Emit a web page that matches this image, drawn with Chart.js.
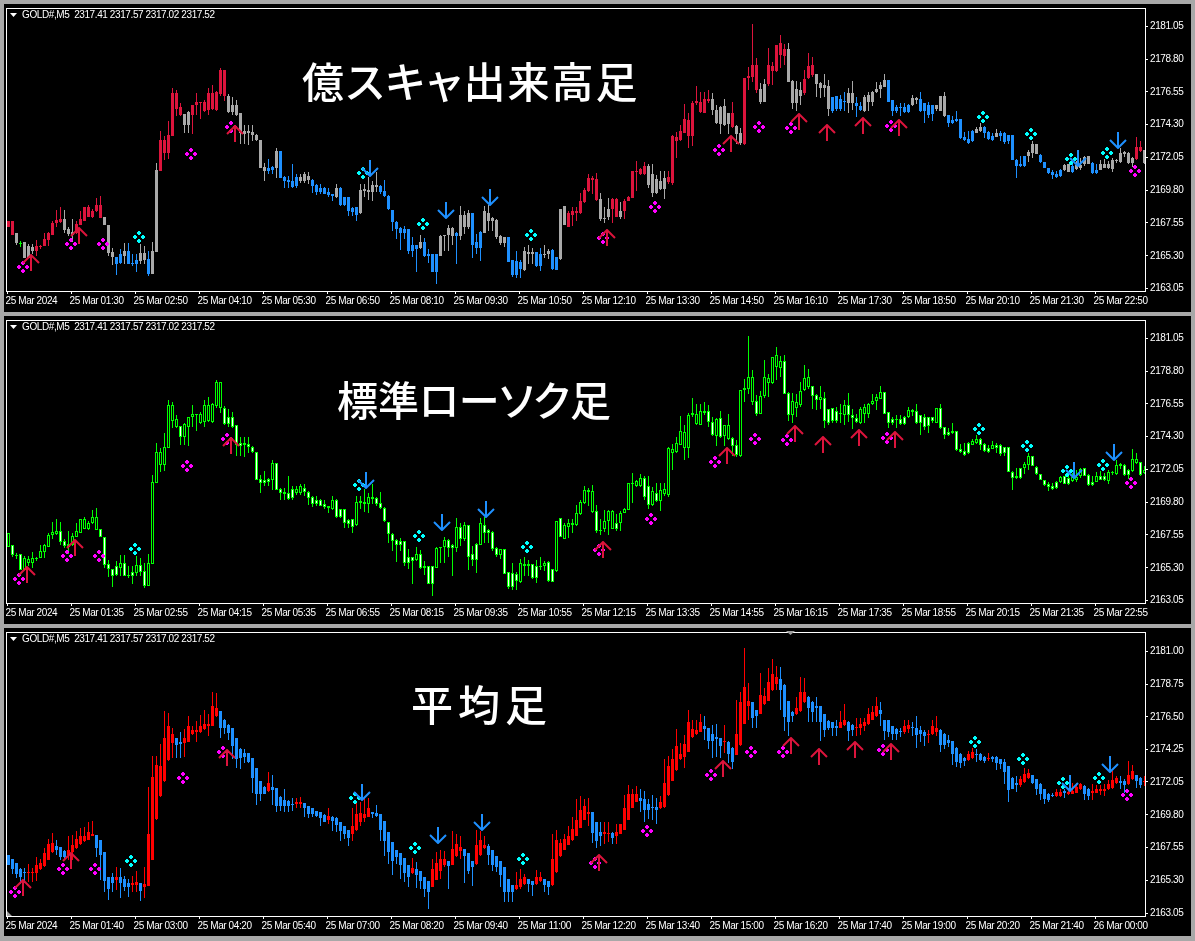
<!DOCTYPE html>
<html>
<head>
<meta charset="utf-8">
<script src="https://cdn.jsdelivr.net/npm/chart.js@4"></script>
<style>
html, body { margin: 0; padding: 0; background: #a8a8a8; width: 1195px; height: 941px; overflow: hidden; }
.pane { position: absolute; left: 4px; width: 1187px; background: #000; }
canvas { position: absolute; left: 0; }
.title { position: absolute; color: #fff; font-family: "Noto Sans CJK JP"; font-weight: 500; font-size: 42px; line-height: 42px; white-space: nowrap; font-feature-settings: "palt"; }
</style>
</head>
<body>
<div class="pane" style="top:4px;height:308px"></div>
<div class="pane" style="top:316px;height:308px"></div>
<div class="pane" style="top:628px;height:308px"></div>
<canvas id="myChart" width="1195" height="312" style="top:0"></canvas>
<canvas id="myChart2" width="1195" height="312" style="top:312px"></canvas>
<canvas id="myChart3" width="1195" height="317" style="top:624px"></canvas>
<div class="title" style="left:302px;top:59px;letter-spacing:2px">億スキャ出来高足</div>
<div class="title" style="left:337px;top:377px;font-size:41px;letter-spacing:0">標準ローソク足</div>
<div class="title" style="left:411px;top:682px;letter-spacing:5px">平均足</div>
<script>
// one letter per bar: r red, b blue, g / h grey (up / down), l lime
const barClass = 'rrhlhggrrr' + 'rrrrhhhrrr' + 'rrrrhhhbbg' + 'bbbghbggrr' + 'rrrrhgrrrr' + 'rrrrrhhhhh' + 'ghhhhbbgbb' + 'bbbgghbbbb' + 'bbgbbbbbgh' + 'hghbbbbbbb' +
  'bbbgbbbbgg' + 'ghbghgbbbg' + 'hhhhgbbbbg' + 'ghbbggbbgh' + 'rrrrrrrrhh' + 'grrhrrrrrr' + 'hhghgrrrrr' + 'rrrrrrhhgh' + 'grhhrrrrhg' + 'rrrrrhhggr' +
  'rrhhghbbbb' + 'ghbbgggggg' + 'bbbbbbggbb' + 'bbhghbbbbb' + 'bbggbbbgbb' + 'bbbbbgghbb' + 'bbbbghbggg' + 'hbbghhghgh' + 'hhrrhg';

const bodyTop = [
2167.71,2167.71,2166.85,2166.16,2166.21,2165.94,2165.89,2165.94,2165.98,2166.48,
2166.85,2167.57,2167.76,2167.80,2167.80,2167.17,2166.94,2167.48,2167.80,2168.62,
2168.62,2168.35,2168.80,2168.80,2167.98,2167.44,2165.55,2165.21,2165.39,2165.66,
2165.66,2164.80,2164.98,2165.48,2165.48,2165.07,2165.66,2171.16,2173.26,2173.26,
2173.57,2176.48,2176.44,2175.48,2175.03,2175.16,2175.66,2175.89,2175.89,2175.85,
2176.44,2176.44,2176.57,2178.07,2178.07,2176.30,2175.66,2175.66,2175.07,2173.85,
2173.85,2173.80,2173.62,2173.26,2171.39,2171.30,2171.39,2172.48,2172.48,2170.71,
2170.48,2170.44,2170.71,2170.71,2170.89,2170.76,2170.53,2170.17,2169.94,2169.94,
2169.66,2169.53,2169.98,2169.98,2169.30,2169.35,2168.57,2168.66,2169.80,2169.85,
2169.80,2170.17,2170.17,2170.07,2169.76,2169.41,2168.44,2167.62,2167.21,2167.12,
2167.17,2166.07,2166.03,2166.21,2166.21,2165.44,2165.39,2165.39,2166.66,2166.75,
2167.21,2167.21,2166.85,2168.12,2168.12,2168.21,2168.21,2166.21,2166.94,2168.39,
2168.26,2167.89,2167.76,2166.66,2166.57,2166.57,2164.98,2164.94,2164.89,2165.62,
2165.57,2165.53,2165.53,2165.39,2165.39,2165.66,2165.71,2165.21,2168.53,2168.71,
2168.26,2168.39,2168.39,2169.07,2169.80,2170.62,2170.62,2170.57,2169.21,2167.89,
2168.53,2169.17,2169.17,2168.39,2169.07,2169.35,2171.12,2171.14,2171.26,2171.44,
2171.48,2170.89,2170.57,2170.44,2170.66,2170.71,2173.51,2173.44,2173.85,2174.66,
2174.62,2175.80,2175.94,2175.89,2176.07,2176.07,2176.03,2175.30,2175.53,2175.55,
2175.07,2175.07,2174.21,2173.71,2177.53,2177.66,2178.39,2178.39,2176.76,2177.12,
2178.39,2178.35,2179.76,2179.89,2179.48,2179.48,2177.30,2176.76,2176.71,2177.44,
2178.35,2178.39,2177.76,2177.17,2177.03,2176.94,2176.17,2176.26,2176.03,2175.94,
2176.48,2176.48,2175.80,2175.57,2176.21,2176.35,2176.57,2176.76,2177.03,2177.39,
2177.39,2175.98,2175.53,2175.53,2175.53,2175.66,2176.12,2176.12,2176.07,2175.76,
2175.66,2175.62,2175.62,2176.30,2176.30,2174.94,2174.62,2174.66,2174.66,2173.44,
2173.35,2173.89,2173.98,2174.12,2174.16,2173.80,2173.53,2173.71,2173.76,2173.76,
2173.57,2173.57,2171.89,2171.57,2172.12,2172.39,2172.98,2172.94,2172.21,2171.76,
2171.30,2171.08,2170.94,2171.21,2171.53,2171.57,2171.44,2171.53,2171.53,2172.07,
2172.17,2171.66,2171.21,2171.57,2171.62,2171.57,2171.85,2171.85,2172.35,2172.39,
2172.35,2172.03,2172.80,2172.80,2172.53,2171.98];

const bodyBottom = [
2167.26,2166.75,2166.16,2166.12,2165.12,2165.16,2165.62,2165.66,2165.89,2165.94,
2166.39,2166.75,2167.53,2167.62,2167.07,2166.80,2166.75,2166.85,2167.44,2167.71,
2167.94,2167.98,2168.35,2167.89,2167.44,2165.48,2165.21,2164.76,2164.80,2165.30,
2164.71,2164.76,2164.76,2164.94,2164.98,2164.03,2164.03,2165.57,2171.12,2172.35,
2172.35,2173.53,2175.35,2174.94,2174.26,2174.26,2174.98,2175.62,2175.78,2175.26,
2175.30,2175.39,2175.33,2176.39,2176.26,2175.16,2175.16,2174.98,2173.71,2173.66,
2173.73,2173.57,2173.26,2171.35,2171.12,2171.12,2171.21,2171.35,2170.66,2170.44,
2170.39,2170.03,2170.07,2170.44,2170.44,2170.48,2170.12,2169.71,2169.66,2169.57,
2169.44,2169.39,2169.30,2168.76,2168.80,2168.39,2168.28,2168.12,2168.21,2169.76,
2169.69,2169.71,2170.05,2169.71,2169.37,2168.48,2167.62,2167.17,2166.85,2166.89,
2165.62,2165.62,2165.76,2165.80,2165.26,2165.30,2164.19,2164.19,2165.30,2166.69,
2166.71,2166.69,2166.66,2166.66,2167.26,2167.26,2166.07,2165.80,2165.80,2166.89,
2167.71,2167.71,2166.62,2166.16,2166.16,2164.89,2163.96,2163.96,2164.39,2164.30,
2165.39,2165.39,2164.57,2164.57,2165.35,2165.39,2164.39,2164.35,2165.07,2167.44,
2167.30,2168.12,2168.26,2168.26,2168.98,2169.76,2170.53,2169.12,2167.80,2167.80,
2167.94,2168.53,2167.98,2167.94,2168.35,2169.07,2169.26,2171.05,2170.89,2170.89,
2170.17,2169.62,2169.62,2169.87,2169.85,2170.35,2170.30,2173.16,2173.26,2173.76,
2173.53,2173.53,2175.80,2175.16,2175.12,2175.94,2175.30,2174.39,2174.35,2174.26,
2174.35,2174.16,2173.66,2173.03,2172.94,2177.53,2177.57,2176.71,2175.89,2175.89,
2177.07,2177.98,2177.98,2179.07,2179.03,2177.26,2175.76,2175.76,2176.30,2176.48,
2177.48,2177.71,2177.12,2176.85,2176.85,2175.35,2175.21,2175.35,2175.35,2175.85,
2175.80,2175.76,2175.57,2175.30,2175.21,2175.89,2175.89,2176.53,2176.76,2176.92,
2175.89,2175.26,2175.26,2175.48,2175.16,2175.16,2175.62,2176.01,2175.21,2175.21,
2174.94,2175.03,2175.39,2175.26,2174.87,2174.39,2174.44,2174.53,2173.39,2173.26,
2173.07,2173.16,2173.76,2173.89,2173.71,2173.30,2173.26,2173.48,2173.53,2173.12,
2173.16,2171.89,2171.48,2171.44,2171.44,2172.17,2172.35,2172.30,2171.71,2171.30,
2170.98,2170.85,2170.71,2170.76,2171.16,2171.08,2171.08,2171.26,2171.35,2171.57,
2171.62,2170.98,2170.98,2171.21,2171.35,2171.30,2171.26,2171.80,2171.71,2172.30,
2171.66,2171.66,2171.94,2172.48,2171.66,2171.80];

const barHigh = [
2167.71,2167.71,2166.85,2166.30,2166.21,2166.12,2166.12,2166.35,2166.05,2166.85,
2166.92,2167.71,2168.44,2168.62,2168.44,2167.30,2167.82,2167.71,2168.39,2168.66,
2168.80,2168.51,2169.26,2169.41,2167.98,2167.44,2165.85,2165.21,2165.78,2166.16,
2166.16,2165.44,2165.39,2166.12,2165.94,2165.66,2166.23,2171.69,2173.89,2173.51,
2174.57,2176.85,2176.69,2175.78,2175.03,2175.26,2175.66,2176.46,2175.89,2176.01,
2176.80,2177.03,2176.62,2178.21,2178.07,2176.39,2176.17,2176.01,2175.07,2174.30,
2174.30,2174.26,2173.66,2173.26,2171.69,2171.92,2171.46,2172.71,2172.48,2170.78,
2170.78,2171.62,2170.94,2170.89,2171.05,2171.05,2170.57,2170.21,2170.21,2170.03,
2169.94,2169.57,2170.26,2170.03,2169.35,2169.35,2168.66,2168.66,2170.26,2170.26,
2170.71,2170.44,2171.03,2170.14,2170.48,2169.46,2168.44,2167.66,2167.26,2167.35,
2167.17,2166.57,2166.03,2166.75,2166.53,2165.78,2165.44,2165.39,2166.75,2166.75,
2167.39,2167.26,2166.94,2168.71,2168.39,2168.44,2168.26,2166.80,2166.98,2168.73,
2168.80,2167.98,2167.80,2166.71,2166.62,2166.62,2165.03,2165.62,2164.98,2165.89,
2166.07,2165.85,2165.57,2165.80,2166.01,2165.78,2165.78,2165.21,2168.53,2168.71,
2168.35,2168.66,2168.66,2169.64,2169.98,2170.94,2170.78,2170.98,2169.62,2168.62,
2169.26,2169.26,2169.26,2168.98,2169.21,2169.41,2171.12,2171.80,2171.35,2171.76,
2171.57,2171.57,2170.85,2171.12,2171.12,2171.12,2173.57,2173.80,2174.30,2175.71,
2175.07,2175.94,2176.98,2176.57,2176.53,2176.69,2176.46,2175.66,2175.57,2176.03,
2175.07,2175.89,2174.30,2174.07,2177.53,2178.28,2181.21,2178.85,2177.14,2177.44,
2179.53,2178.62,2179.80,2180.44,2179.87,2179.94,2177.35,2177.30,2177.26,2178.03,
2179.19,2178.96,2177.80,2177.21,2177.76,2177.35,2176.23,2176.30,2176.35,2176.57,
2176.85,2177.30,2176.17,2175.89,2176.35,2176.53,2176.62,2177.21,2177.26,2177.80,
2177.39,2175.98,2175.62,2175.76,2175.80,2175.71,2176.35,2176.23,2176.57,2175.80,
2175.89,2175.62,2175.62,2176.30,2176.57,2174.98,2174.89,2175.26,2174.66,2173.80,
2173.89,2173.94,2174.16,2174.39,2174.21,2173.85,2173.76,2173.98,2173.85,2173.80,
2173.57,2173.62,2171.94,2172.12,2172.17,2172.53,2173.16,2172.94,2172.26,2171.76,
2171.35,2171.16,2171.12,2171.26,2171.57,2171.62,2171.80,2171.80,2172.03,2172.12,
2172.17,2171.71,2171.62,2171.85,2171.94,2171.80,2172.03,2171.94,2172.71,2172.48,
2172.44,2172.07,2173.44,2173.21,2172.53,2172.26];

const barLow = [
2167.26,2166.75,2166.01,2165.89,2165.12,2165.16,2165.44,2165.26,2165.78,2165.94,
2165.94,2166.75,2167.26,2167.53,2166.85,2166.69,2166.23,2166.80,2167.44,2167.71,
2167.94,2167.89,2168.28,2167.89,2167.44,2165.26,2164.64,2163.96,2164.76,2164.76,
2164.71,2164.57,2164.19,2164.76,2164.76,2163.89,2164.03,2165.55,2171.12,2171.85,
2171.94,2173.53,2174.87,2174.87,2173.73,2173.73,2173.66,2174.98,2174.71,2175.16,
2174.98,2175.33,2175.21,2176.30,2175.94,2175.10,2174.98,2174.87,2172.94,2172.98,
2172.89,2173.16,2173.16,2171.35,2170.44,2170.89,2170.89,2170.66,2170.66,2169.98,
2169.98,2169.98,2169.98,2170.32,2170.32,2170.21,2169.64,2169.48,2169.57,2169.53,
2169.30,2169.07,2169.26,2168.73,2168.73,2168.05,2168.05,2167.66,2168.16,2169.35,
2169.12,2169.07,2169.71,2169.57,2169.30,2168.46,2166.98,2166.46,2165.71,2166.46,
2165.39,2165.21,2164.16,2165.76,2165.21,2164.80,2164.19,2163.35,2165.26,2165.66,
2165.62,2166.07,2164.71,2166.35,2166.80,2167.14,2165.12,2165.44,2164.94,2166.85,
2167.03,2167.03,2166.44,2166.07,2165.89,2164.85,2163.85,2163.80,2163.80,2164.26,
2164.76,2164.76,2164.53,2164.26,2165.16,2165.10,2164.35,2164.35,2165.03,2167.39,
2167.26,2167.37,2167.71,2168.16,2168.94,2169.71,2169.57,2169.07,2167.71,2167.53,
2167.76,2167.57,2167.94,2167.82,2167.82,2169.07,2169.26,2169.76,2170.85,2170.85,
2169.94,2169.35,2169.53,2169.80,2169.19,2170.26,2170.17,2172.03,2173.16,2173.71,
2172.71,2172.82,2175.66,2175.10,2175.07,2175.80,2174.98,2174.35,2173.66,2174.19,
2173.66,2174.07,2172.98,2172.89,2172.89,2176.71,2177.26,2176.46,2175.71,2175.85,
2176.98,2177.03,2177.94,2178.16,2178.39,2177.21,2175.39,2175.21,2175.66,2176.35,
2177.44,2177.60,2176.17,2176.12,2176.23,2174.89,2175.12,2175.21,2175.26,2175.21,
2175.10,2175.33,2174.80,2175.21,2175.16,2175.21,2175.55,2176.48,2176.12,2176.87,
2175.89,2174.87,2175.10,2174.87,2175.10,2175.12,2175.57,2175.71,2175.16,2174.41,
2174.76,2174.57,2175.21,2175.26,2174.82,2174.12,2174.35,2174.48,2173.35,2173.16,
2172.98,2173.12,2173.71,2173.80,2173.39,2173.26,2173.21,2173.44,2173.21,2172.94,
2172.94,2171.85,2170.66,2171.39,2171.39,2171.76,2172.03,2172.30,2171.66,2171.30,
2170.89,2170.57,2170.66,2170.71,2171.12,2171.03,2170.98,2171.16,2171.21,2171.48,
2171.62,2170.94,2170.89,2171.16,2171.30,2171.26,2171.08,2171.66,2171.66,2172.07,
2171.57,2171.39,2171.85,2172.44,2171.62,2171.71];

// heikin ashi pane
const haClass = 'bbbbbrrrrr' + 'rrbbbrrrrr' + 'rrbbbbbrbb' + 'brrbrrrrrr' + 'rrbbrrrrrr' + 'rrrbbbbbbb' + 'bbbbbrbbbb' + 'bbrrbbbbbb' + 'rbbbbbrrrr' + 'rbbbbbbbbb' +
  'brbbbbrrrr' + 'brrrbbbrrr' + 'bbbbbbbrrr' + 'bbrrbbrrrr' + 'rrrrrrbbbr' + 'rbrrrrrrbb' + 'bbbrrrrrrr' + 'rrrrbbbbbr' + 'bbrrrrbbrr' + 'rrrbbbbrrr' +
  'bbbbbbbbrr' + 'bbrrrrrrbb' + 'bbbbrrbbbb' + 'rrrbbbbbbb' + 'rrbbbrbbbb' + 'bbbrrrbbbb' + 'bbrrbrrrrb' + 'brrrrrrrbb' + 'rrbbr';

const haTop = [
2167.02,2166.74,2166.47,2166.06,2165.86,2165.86,2165.86,2166.34,2166.52,2167.15,
2167.83,2167.88,2167.65,2167.56,2167.29,2167.42,2167.74,2168.15,2168.33,2168.33,
2168.65,2168.51,2168.42,2168.04,2167.24,2165.54,2165.52,2165.57,2165.52,2165.38,
2165.11,2165.16,2165.20,2165.11,2165.07,2168.51,2172.36,2173.18,2173.14,2175.08,
2175.90,2175.31,2175.04,2174.81,2175.04,2175.90,2175.58,2175.58,2175.90,2176.04,
2175.99,2177.26,2177.08,2176.87,2176.31,2175.95,2175.72,2175.04,2174.31,2174.00,
2174.00,2173.68,2173.00,2172.12,2171.73,2172.00,2171.68,2171.62,2171.00,2170.82,
2170.73,2170.55,2170.69,2170.69,2170.60,2170.42,2170.23,2170.05,2169.96,2169.78,
2169.74,2169.65,2169.55,2169.33,2169.06,2168.78,2169.06,2169.83,2169.92,2169.87,
2170.28,2170.01,2169.92,2169.87,2169.40,2168.65,2167.92,2167.42,2167.15,2166.83,
2166.34,2166.15,2166.06,2165.93,2165.57,2165.29,2166.06,2166.47,2166.74,2166.79,
2166.61,2167.47,2167.83,2167.60,2167.47,2167.20,2166.61,2167.74,2168.10,2167.70,
2167.65,2167.42,2166.97,2166.65,2166.20,2165.38,2164.98,2165.02,2165.43,2165.52,
2165.38,2165.25,2165.52,2165.52,2165.43,2165.25,2166.79,2168.10,2167.88,2168.15,
2168.38,2168.83,2169.46,2170.14,2170.42,2170.01,2170.01,2169.33,2168.65,2168.65,
2168.58,2168.56,2168.65,2169.19,2170.23,2171.19,2171.19,2171.23,2170.96,2170.91,
2170.55,2170.32,2170.32,2170.64,2171.96,2173.14,2173.59,2174.50,2173.95,2174.63,
2176.13,2175.67,2175.63,2176.17,2175.85,2175.76,2175.36,2175.13,2175.08,2174.86,
2174.81,2174.40,2175.31,2177.49,2178.57,2177.62,2177.49,2176.94,2178.03,2177.94,
2178.89,2179.44,2179.21,2179.07,2178.71,2177.62,2176.85,2177.12,2178.17,2178.21,
2177.89,2177.53,2177.22,2177.22,2176.67,2176.22,2176.13,2175.85,2176.13,2176.31,
2176.17,2175.95,2175.81,2175.99,2176.17,2176.67,2176.81,2177.26,2176.94,2176.26,
2176.26,2175.85,2175.67,2175.54,2175.90,2175.95,2175.81,2175.76,2175.58,2175.45,
2175.36,2175.85,2175.72,2175.63,2175.36,2174.90,2174.83,2174.40,2173.95,2173.68,
2173.95,2174.09,2173.97,2173.95,2173.77,2173.68,2173.72,2173.72,2173.59,2173.41,
2173.14,2172.32,2171.96,2172.27,2172.59,2172.68,2172.50,2172.23,2171.91,2171.55,
2171.23,2171.14,2171.37,2171.37,2171.41,2171.37,2171.41,2171.68,2171.91,2171.78,
2171.59,2171.41,2171.59,2171.55,2171.55,2171.91,2172.18,2172.32,2172.14,2172.14,
2172.50,2172.77,2172.50,2172.32,2172.14];

const haBottom = [
2166.38,2166.11,2165.77,2165.54,2165.82,2165.82,2165.82,2165.82,2166.06,2166.29,
2166.68,2167.24,2167.36,2166.93,2166.90,2167.02,2167.24,2167.51,2167.81,2167.97,
2168.10,2168.38,2167.51,2167.02,2165.25,2164.75,2165.16,2165.32,2165.16,2164.84,
2164.86,2164.98,2165.02,2164.57,2164.86,2164.93,2166.68,2169.51,2171.05,2172.09,
2173.54,2174.68,2174.59,2174.63,2174.68,2174.81,2175.31,2175.45,2175.45,2175.67,
2175.90,2175.90,2176.53,2175.74,2175.72,2175.40,2174.54,2173.59,2173.70,2173.72,
2173.41,2172.32,2171.19,2171.23,2171.23,2171.41,2171.50,2170.42,2170.42,2170.42,
2170.42,2170.46,2170.51,2170.53,2170.23,2169.85,2169.83,2169.74,2169.55,2169.33,
2169.46,2169.37,2169.10,2168.69,2168.47,2168.24,2168.51,2168.74,2169.28,2169.60,
2169.65,2169.87,2169.74,2168.78,2167.97,2167.24,2166.61,2166.88,2166.34,2165.79,
2165.52,2165.84,2165.70,2165.25,2164.75,2164.52,2164.86,2165.34,2165.93,2166.34,
2166.29,2166.38,2166.97,2167.33,2166.97,2165.93,2166.20,2166.43,2167.02,2167.51,
2167.06,2166.34,2166.25,2165.70,2164.48,2164.48,2164.48,2164.70,2164.84,2165.09,
2165.07,2164.98,2165.07,2165.25,2164.98,2164.84,2164.98,2165.88,2166.97,2167.42,
2167.74,2168.04,2168.38,2168.92,2169.46,2169.87,2168.56,2167.97,2168.33,2168.47,
2168.51,2168.24,2168.38,2168.51,2168.78,2169.46,2170.28,2170.69,2170.73,2170.14,
2170.14,2170.28,2170.10,2170.23,2170.32,2171.14,2172.14,2172.87,2173.59,2173.72,
2174.13,2175.13,2175.31,2175.49,2175.67,2174.83,2174.86,2175.00,2174.50,2174.81,
2173.95,2173.41,2173.91,2174.59,2176.04,2177.26,2176.40,2176.53,2176.72,2177.35,
2177.62,2178.35,2178.76,2178.35,2176.49,2176.13,2176.53,2176.67,2176.90,2177.49,
2177.12,2176.81,2177.08,2176.13,2175.58,2175.72,2175.72,2175.76,2175.76,2175.95,
2175.54,2175.58,2175.72,2175.72,2175.85,2175.99,2176.31,2176.53,2176.67,2175.54,
2175.49,2175.36,2175.31,2175.45,2175.45,2175.67,2175.76,2175.27,2175.31,2175.17,
2175.33,2175.31,2175.49,2174.59,2174.59,2174.68,2173.95,2173.41,2173.36,2173.50,
2173.54,2173.68,2173.91,2173.54,2173.45,2173.63,2173.63,2173.36,2173.27,2172.73,
2171.50,2171.59,2171.82,2171.82,2172.05,2172.32,2171.96,2171.55,2171.19,2170.87,
2170.82,2171.05,2171.05,2171.09,2171.32,2171.19,2171.23,2171.32,2171.55,2171.23,
2171.09,2171.32,2171.32,2171.44,2171.46,2171.55,2171.64,2171.96,2172.00,2171.82,
2171.91,2172.23,2172.14,2171.87,2172.09];

const haHigh = [
2167.02,2166.74,2166.47,2166.15,2166.15,2166.43,2166.15,2166.90,2166.79,2167.51,
2168.15,2168.56,2168.04,2167.56,2167.36,2168.38,2168.42,2168.72,2168.87,2168.94,
2169.33,2169.40,2168.42,2168.04,2167.24,2165.54,2165.84,2166.22,2166.15,2165.61,
2165.38,2165.61,2165.93,2165.16,2166.22,2171.68,2173.82,2173.82,2174.61,2176.87,
2176.76,2175.74,2175.04,2175.45,2175.67,2176.53,2175.90,2176.20,2176.65,2176.99,
2176.72,2178.23,2178.12,2176.87,2176.35,2176.04,2175.74,2175.06,2174.36,2174.31,
2174.04,2173.68,2173.00,2172.12,2171.78,2172.73,2172.50,2171.66,2171.09,2171.59,
2170.78,2170.98,2170.98,2171.00,2170.60,2170.42,2170.23,2170.05,2170.01,2169.85,
2170.23,2169.74,2169.62,2169.33,2169.06,2168.78,2170.23,2170.69,2170.69,2170.98,
2170.98,2170.01,2170.46,2169.87,2169.40,2168.65,2167.92,2167.42,2167.15,2166.83,
2166.34,2166.83,2166.56,2165.93,2165.57,2165.29,2166.79,2167.24,2167.36,2167.29,
2166.65,2168.72,2168.49,2168.38,2167.47,2167.20,2166.61,2168.78,2168.72,2168.38,
2167.81,2167.42,2166.97,2166.65,2166.20,2165.38,2164.98,2165.88,2166.06,2165.77,
2165.38,2165.25,2165.99,2165.88,2165.43,2165.25,2168.49,2168.74,2168.15,2168.49,
2169.06,2169.62,2170.87,2171.05,2170.87,2170.98,2170.01,2169.33,2169.33,2169.28,
2169.28,2168.65,2169.15,2169.19,2171.14,2171.82,2171.55,2171.78,2171.55,2171.44,
2170.87,2171.14,2170.98,2171.09,2173.59,2173.82,2174.27,2175.67,2174.68,2175.29,
2176.99,2176.31,2176.26,2176.72,2176.53,2175.76,2175.95,2176.04,2175.08,2175.95,
2174.83,2174.45,2177.67,2178.23,2181.20,2178.80,2177.49,2176.99,2179.53,2178.46,
2179.82,2180.48,2179.98,2179.93,2178.76,2177.62,2176.90,2177.85,2179.25,2179.14,
2177.94,2177.58,2177.85,2177.26,2176.72,2176.26,2176.17,2176.31,2176.90,2177.35,
2176.22,2175.99,2176.40,2176.40,2176.40,2177.08,2177.26,2177.85,2177.53,2176.31,
2176.31,2175.90,2175.72,2175.72,2176.31,2176.31,2176.13,2176.53,2175.90,2175.63,
2175.63,2176.31,2176.58,2175.67,2175.40,2175.27,2174.86,2174.45,2174.00,2173.77,
2174.15,2174.36,2174.27,2174.00,2173.82,2174.04,2173.82,2173.82,2173.63,2173.59,
2173.14,2172.36,2172.45,2172.45,2173.00,2172.95,2172.55,2172.27,2171.96,2171.59,
2171.28,2171.32,2171.55,2171.55,2171.55,2171.64,2172.00,2172.00,2171.96,2171.82,
2171.64,2171.91,2171.82,2171.87,2171.91,2172.18,2172.77,2172.45,2172.45,2172.23,
2173.47,2173.18,2172.55,2172.36,2172.45];

const haLow = [
2166.38,2165.77,2165.47,2165.09,2165.16,2165.20,2165.20,2165.25,2165.99,2166.25,
2166.68,2167.20,2167.02,2166.68,2166.68,2166.68,2166.68,2167.47,2167.74,2167.92,
2168.04,2168.33,2166.90,2165.32,2164.52,2163.95,2164.52,2164.64,2164.12,2164.57,
2164.18,2164.48,2164.52,2163.89,2164.07,2164.93,2166.68,2169.46,2171.00,2172.05,
2173.50,2173.70,2173.70,2173.70,2173.77,2174.77,2175.27,2174.77,2175.40,2175.63,
2175.17,2175.85,2176.49,2175.06,2175.36,2174.95,2173.59,2173.02,2172.91,2173.36,
2173.32,2171.28,2170.46,2170.76,2171.21,2171.37,2170.46,2169.96,2170.07,2169.96,
2169.96,2170.07,2170.23,2170.23,2169.62,2169.55,2169.62,2169.62,2169.06,2169.28,
2169.17,2168.72,2168.65,2167.97,2168.15,2167.65,2167.97,2168.72,2169.06,2169.28,
2169.62,2169.55,2169.62,2167.97,2166.97,2166.45,2165.70,2166.45,2165.38,2165.20,
2164.86,2165.77,2164.80,2164.75,2164.18,2163.34,2164.86,2165.32,2165.43,2166.22,
2164.70,2166.38,2166.90,2166.79,2165.11,2165.77,2164.93,2166.38,2166.97,2167.47,
2166.34,2165.93,2165.88,2164.86,2163.84,2163.80,2163.80,2164.64,2164.75,2164.98,
2164.52,2164.25,2165.02,2165.20,2164.52,2164.30,2164.93,2165.84,2166.93,2167.36,
2167.70,2167.97,2168.33,2168.87,2169.42,2169.06,2167.88,2167.51,2167.65,2167.81,
2167.92,2167.79,2167.83,2168.51,2168.78,2169.46,2170.23,2170.64,2170.01,2169.33,
2169.51,2169.46,2169.19,2170.19,2170.28,2171.09,2172.09,2172.82,2173.54,2173.02,
2174.09,2175.08,2175.27,2175.45,2174.95,2174.27,2173.70,2173.77,2173.68,2174.00,
2173.32,2172.91,2173.86,2174.54,2175.99,2176.31,2175.74,2175.74,2176.67,2177.30,
2177.58,2178.30,2178.35,2176.99,2175.51,2175.22,2176.13,2176.62,2176.85,2177.44,
2176.17,2176.13,2176.17,2174.83,2175.13,2175.63,2175.22,2175.17,2175.72,2175.90,
2174.83,2175.22,2175.17,2175.29,2175.51,2175.95,2176.26,2176.49,2175.90,2174.90,
2175.13,2174.90,2174.95,2175.13,2175.36,2175.40,2175.17,2174.38,2174.77,2174.54,
2174.68,2175.27,2175.17,2174.09,2174.31,2174.45,2173.23,2173.05,2173.00,2173.14,
2173.50,2173.63,2173.41,2173.50,2173.32,2173.45,2173.41,2172.87,2172.91,2171.91,
2170.64,2171.55,2171.37,2171.73,2172.00,2172.27,2171.91,2171.14,2170.82,2170.55,
2170.64,2171.00,2171.00,2171.00,2170.96,2171.14,2171.19,2171.28,2171.50,2170.82,
2170.82,2170.82,2171.28,2171.14,2171.05,2171.50,2171.59,2171.91,2171.59,2171.32,
2171.87,2172.18,2171.64,2171.64,2171.78];

// signal markers, positions in bars of the first pane
const magentaBars = [3.6, 15.6, 23.6, 45.6, 55.6, 148.6, 161.6, 177.6, 187.6, 195.6, 220.6, 281.6];
const magentaPrices = [2164.53, 2166.10, 2166.10, 2172.30, 2174.12, 2166.50, 2168.66, 2172.55, 2174.12, 2174.07, 2174.21, 2171.12];
const cyanBars = [32.6, 88.6, 103.6, 130.6, 243.6, 255.6, 265.6, 274.6];
const cyanPrices = [2166.62, 2170.98, 2167.50, 2166.75, 2174.80, 2173.64, 2171.94, 2172.35];
const upBars = [5.6, 17.6, 56.6, 149.6, 180.6, 197.6, 204.6, 213.6, 222.6];
const upPrices = [2164.80, 2166.66, 2173.66, 2166.53, 2172.94, 2174.51, 2173.76, 2174.23, 2174.10];
const downBars = [90.4, 109.4, 120.4, 267.4, 277.4];
const downPrices = [2171.35, 2168.44, 2169.33, 2171.98, 2173.25];

const priceTicks = [2181.05, 2178.80, 2176.55, 2174.30, 2172.05, 2169.80, 2167.55, 2165.30, 2163.05];
const priceTicks3 = [2181.00, 2178.75, 2176.50, 2174.25, 2172.05, 2169.80, 2167.55, 2165.30, 2163.05];
const timeLabels1 = ['25 Mar 2024', '25 Mar 01:30', '25 Mar 02:50', '25 Mar 04:10', '25 Mar 05:30', '25 Mar 06:50', '25 Mar 08:10', '25 Mar 09:30', '25 Mar 10:50', '25 Mar 12:10', '25 Mar 13:30', '25 Mar 14:50', '25 Mar 16:10', '25 Mar 17:30', '25 Mar 18:50', '25 Mar 20:10', '25 Mar 21:30', '25 Mar 22:50'];
const timeLabels2 = ['25 Mar 2024', '25 Mar 01:35', '25 Mar 02:55', '25 Mar 04:15', '25 Mar 05:35', '25 Mar 06:55', '25 Mar 08:15', '25 Mar 09:35', '25 Mar 10:55', '25 Mar 12:15', '25 Mar 13:35', '25 Mar 14:55', '25 Mar 16:15', '25 Mar 17:35', '25 Mar 18:55', '25 Mar 20:15', '25 Mar 21:35', '25 Mar 22:55'];
const timeLabels3 = ['25 Mar 2024', '25 Mar 01:40', '25 Mar 03:00', '25 Mar 04:20', '25 Mar 05:40', '25 Mar 07:00', '25 Mar 08:20', '25 Mar 09:40', '25 Mar 11:00', '25 Mar 12:20', '25 Mar 13:40', '25 Mar 15:00', '25 Mar 16:20', '25 Mar 17:40', '25 Mar 19:00', '25 Mar 20:20', '25 Mar 21:40', '26 Mar 00:00'];
const headerText = 'GOLD#,M5  2317.41 2317.57 2317.02 2317.52';

const BAR_COUNT = 285;
const RED = '#dc143c', BLUE = '#1e90ff', GREY = '#a9a9a9', LIME = '#00ff00', HA_RED = '#ff0000';
const smallFont = { family: '"Liberation Sans", sans-serif', size: 10 };

function colorOf(c) {
  if (c === 'r') return RED;
  if (c === 'b') return BLUE;
  if (c === 'l') return LIME;
  return GREY;
}

function newMark(size, draw) {
  const c = document.createElement('canvas');
  c.width = size;
  c.height = size;
  draw(c.getContext('2d'));
  return c;
}

function dotMark(color) {
  return newMark(12, function (g) {
    g.fillStyle = color;
    [[4, 0], [0, 4], [8, 4], [4, 8]].forEach(function (p) {
      g.fillRect(p[0] + 1, p[1], 2, 4);
      g.fillRect(p[0], p[1] + 1, 4, 2);
    });
  });
}

function arrowMark(color, up) {
  return newMark(18, function (g) {
    g.strokeStyle = color;
    g.lineWidth = 2;
    g.beginPath();
    if (up) {
      g.moveTo(9, 1); g.lineTo(9, 17);
      g.moveTo(1, 9); g.lineTo(9, 1); g.lineTo(17, 9);
    } else {
      g.moveTo(9, 17); g.lineTo(9, 1);
      g.moveTo(1, 9); g.lineTo(9, 17); g.lineTo(17, 9);
    }
    g.stroke();
  });
}

// keep candles on whole pixels like the terminal draws them
const snapBars = {
  id: 'snapBars',
  beforeDraw(chart) {
    chart.ctx.letterSpacing = '-0.4px';
  },
  beforeDatasetsDraw(chart) {
    chart.getSortedVisibleDatasetMetas().forEach(function (meta) {
      meta.data.forEach(function (el) {
        if (meta.type === 'bar') {
          el.y = Math.round(el.y);
          el.base = Math.round(el.base);
          if (Math.abs(el.base - el.y) < 1) el.base = el.y + 1;
        } else {
          el.x = Math.round(el.x);
          el.y = Math.round(el.y);
        }
      });
    });
  }
};

const frame = {
  id: 'frame',
  afterDraw(chart) {
    const a = chart.chartArea, g = chart.ctx;
    g.save();
    g.strokeStyle = '#fff';
    g.lineWidth = 1;
    g.strokeRect(a.left + 0.5, a.top + 0.5, a.right - a.left, a.bottom - a.top);
    g.fillStyle = '#fff';
    g.beginPath();
    g.moveTo(10, 13); g.lineTo(17, 13); g.lineTo(13.5, 17);
    g.fill();
    g.font = smallFont.size + 'px ' + smallFont.family;
    g.textBaseline = 'middle';
    g.fillText(headerText, 22, 15);
    if (chart.canvas.id === 'myChart3') {
      g.fillStyle = '#a0a0a0';
      g.beginPath();
      g.moveTo(786, 7); g.lineTo(795, 7); g.lineTo(790.5, 11);
      g.moveTo(7, 287); g.lineTo(7, 292); g.lineTo(12, 292);
      g.fill();
    }
    g.restore();
  }
};

function scatterSet(xs, ys, shift, mark) {
  return {
    type: 'scatter',
    order: 0,
    data: xs.map(function (x, k) { return { x: x - shift, y: ys[k] }; }),
    pointStyle: mark,
    pointRadius: 8,
    showLine: false
  };
}

function drawPane(id, p) {
  const wick = [], body = [];
  for (let j = 0; j < BAR_COUNT; j++) {
    const i = j + p.shift;
    wick.push({ x: j, y: [p.low[i], p.high[i]] });
    body.push({ x: j, y: [p.bottom[i], p.top[i]] });
  }
  const idx = [];
  for (let j = 0; j < BAR_COUNT; j++) idx.push(j + p.shift);

  new Chart(document.getElementById(id), {
    type: 'bar',
    data: {
      datasets: [
        scatterSet(upBars, upPrices, p.markShift, arrowMark(RED, true)),
        scatterSet(downBars, downPrices, p.markShift, arrowMark(BLUE, false)),
        scatterSet(magentaBars, magentaPrices, p.markShift, dotMark('#ff00ff')),
        scatterSet(cyanBars, cyanPrices, p.markShift, dotMark('#00ffff')),
        {
          order: 1,
          data: body,
          maxBarThickness: 3,
          grouped: false,
          barPercentage: 1,
          inflateAmount: 0,
          borderSkipped: false,
          borderWidth: p.outline ? 1 : 0,
          borderColor: LIME,
          backgroundColor: idx.map(p.fill)
        },
        {
          order: 2,
          data: wick,
          maxBarThickness: 1,
          grouped: false,
          barPercentage: 1,
          inflateAmount: 0,
          borderWidth: 0,
          backgroundColor: idx.map(p.line)
        }
      ]
    },
    plugins: [snapBars, frame],
    options: {
      responsive: false,
      animation: false,
      layout: { autoPadding: false, padding: { left: 6, top: 6, right: 0, bottom: 0 } },
      plugins: { legend: { display: false }, tooltip: { enabled: false } },
      scales: {
        x: {
          type: 'linear',
          offset: false,
          min: -0.625,
          max: 284.125,
          afterFit(s) { s.height = p.axisHeight; },
          afterBuildTicks(s) {
            s.ticks = p.times.map(function (t, k) { return { value: k * 16 - 0.25 }; });
          },
          border: { display: false },
          grid: { offset: false, drawOnChartArea: false, color: '#fff', tickLength: 3 },
          ticks: {
            autoSkip: false,
            maxRotation: 0,
            align: 'start',
            labelOffset: -2,
            padding: 1,
            color: '#fff',
            font: smallFont,
            callback(v, k) { return p.times[k]; }
          }
        },
        y: {
          position: 'right',
          beginAtZero: false,
          min: p.min,
          max: p.max,
          afterFit(s) { s.width = 50; },
          afterBuildTicks(s) {
            s.ticks = p.prices.map(function (v) { return { value: v }; });
          },
          border: { display: false },
          grid: { drawOnChartArea: false, color: '#fff', tickLength: 3 },
          ticks: {
            autoSkip: false,
            padding: 2,
            color: '#fff',
            font: smallFont,
            callback(v) { return v.toFixed(2); }
          }
        }
      }
    }
  });
}

drawPane('myChart', {
  shift: 0, markShift: 0, axisHeight: 21, min: 2162.88, max: 2182.31, times: timeLabels1, prices: priceTicks,
  top: bodyTop, bottom: bodyBottom, high: barHigh, low: barLow,
  fill: function (i) { return colorOf(barClass[i]); },
  line: function (i) { return colorOf(barClass[i]); }
});

drawPane('myChart2', {
  shift: 1, markShift: 1, axisHeight: 21, min: 2162.88, max: 2182.31, times: timeLabels2, prices: priceTicks, outline: true,
  top: bodyTop, bottom: bodyBottom, high: barHigh, low: barLow,
  fill: function (i) { const c = barClass[i]; return (c === 'b' || c === 'h') ? '#fff' : '#000'; },
  line: function () { return LIME; }
});

drawPane('myChart3', {
  shift: 0, markShift: 2, axisHeight: 25, min: 2162.87, max: 2182.31, times: timeLabels3, prices: priceTicks3,
  top: haTop, bottom: haBottom, high: haHigh, low: haLow,
  fill: function (i) { return haClass[i] === 'r' ? HA_RED : BLUE; },
  line: function (i) { return haClass[i] === 'r' ? HA_RED : BLUE; }
});
</script>
</body>
</html>
